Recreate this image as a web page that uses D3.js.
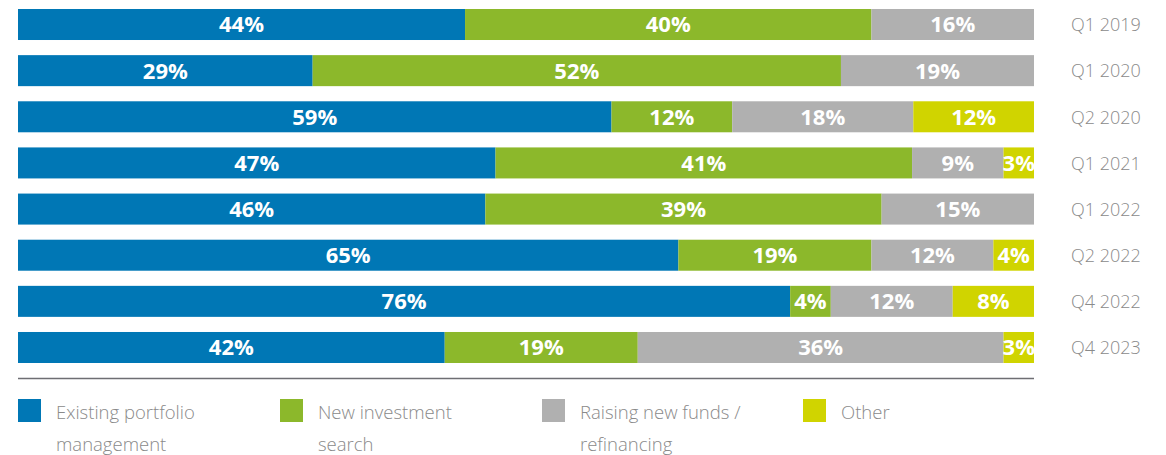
<!DOCTYPE html>
<html lang="en">
<head>
<meta charset="utf-8">
<title>Stacked bars</title>
<script src="https://d3js.org/d3.v7.min.js"></script>
<style>
  body { margin: 0; background: #fff; }
  .pct { font-family: "Open Sans", sans-serif; font-weight: 700; font-size: 22px; fill: #fff; }
  .period { font-family: "Open Sans", sans-serif; font-weight: 300; font-size: 18px; fill: #8a8a8a; }
  .leg { font-family: "Open Sans", sans-serif; font-weight: 300; font-size: 18.5px; fill: #8a8a8a; }
</style>
</head>
<body>
<div id="chart"></div>
<script>
// data
var periods = ["Q1 2019", "Q1 2020", "Q2 2020", "Q1 2021", "Q1 2022", "Q2 2022", "Q4 2022", "Q4 2023"]
var seriesNames = ["Existing portfolio management", "New investment search", "Raising new funds / refinancing", "Other"]
var legendLines = [["Existing portfolio", "management"], ["New investment", "search"], ["Raising new funds /", "refinancing"], ["Other"]]
var existing = [44, 29, 59, 47, 46, 65, 76, 42]
var newSearch = [40, 52, 12, 41, 39, 19, 4, 19]
var raising = [16, 19, 18, 9, 15, 12, 12, 36]
var other = [0, 0, 12, 3, 0, 4, 8, 3]
var colors = ["#0077b5", "#8cb82b", "#b0b0b0", "#d0d400"]

var w = 1166, h = 455
var left = 18, right = 1034

var svg = d3.select("#chart").append("svg")
  .attr("width", w).attr("height", h)

var rows = periods.map(function(p, i) {
  return { period: p, vals: [existing[i], newSearch[i], raising[i], other[i]] }
})

var yScale = d3.scaleBand()
  .domain(periods)
  .range([9, 363])
  .paddingInner(0.328)
  .paddingOuter(0)

var xScale = d3.scaleLinear().domain([0, 1]).range([left, right])

var row = svg.selectAll("g.row")
  .data(rows)
  .enter().append("g")
  .attr("class", "row")
  .attr("transform", function(d) { return "translate(0," + yScale(d.period) + ")" })

row.each(function(d) {
  var g = d3.select(this)
  var total = d3.sum(d.vals)
  var acc = 0
  var segs = d.vals.map(function(v, k) {
    var s = { v: v, k: k, x0: acc / total, x1: (acc + v) / total }
    acc += v
    return s
  }).filter(function(s) { return s.v > 0 })

  g.selectAll("rect").data(segs).enter().append("rect")
    .attr("x", function(s) { return xScale(s.x0) })
    .attr("width", function(s) { return xScale(s.x1) - xScale(s.x0) })
    .attr("y", 0)
    .attr("height", yScale.bandwidth())
    .attr("fill", function(s) { return colors[s.k] })

  g.selectAll("text.pct").data(segs).enter().append("text")
    .attr("class", "pct")
    .attr("x", function(s) { return (xScale(s.x0) + xScale(s.x1)) / 2 })
    .attr("y", yScale.bandwidth() / 2)
    .attr("dy", "0.36em")
    .attr("text-anchor", "middle")
    .text(function(s) { return s.v + "%" })

  g.append("text")
    .attr("class", "period")
    .attr("x", 1071)
    .attr("y", yScale.bandwidth() / 2)
    .attr("dy", "0.38em")
    .text(d.period)
})

// separator line
svg.append("line")
  .attr("x1", left).attr("x2", right)
  .attr("y1", 378.5).attr("y2", 378.5)
  .attr("stroke", "#6e6e73").attr("stroke-width", 1.5)

// legend
var legX = [18, 280, 542, 803]
var leg = svg.selectAll("g.legend")
  .data(seriesNames)
  .enter().append("g")
  .attr("class", "legend")
  .attr("transform", function(d, i) { return "translate(" + legX[i] + ",399)" })

leg.append("rect")
  .attr("width", 23).attr("height", 23)
  .attr("fill", function(d, i) { return colors[i] })

leg.each(function(d, i) {
  var t = d3.select(this).append("text").attr("class", "leg")
  legendLines[i].forEach(function(line, j) {
    t.append("tspan").attr("x", 38).attr("y", 20 + j * 32).text(line)
  })
})
</script>
</body>
</html>
